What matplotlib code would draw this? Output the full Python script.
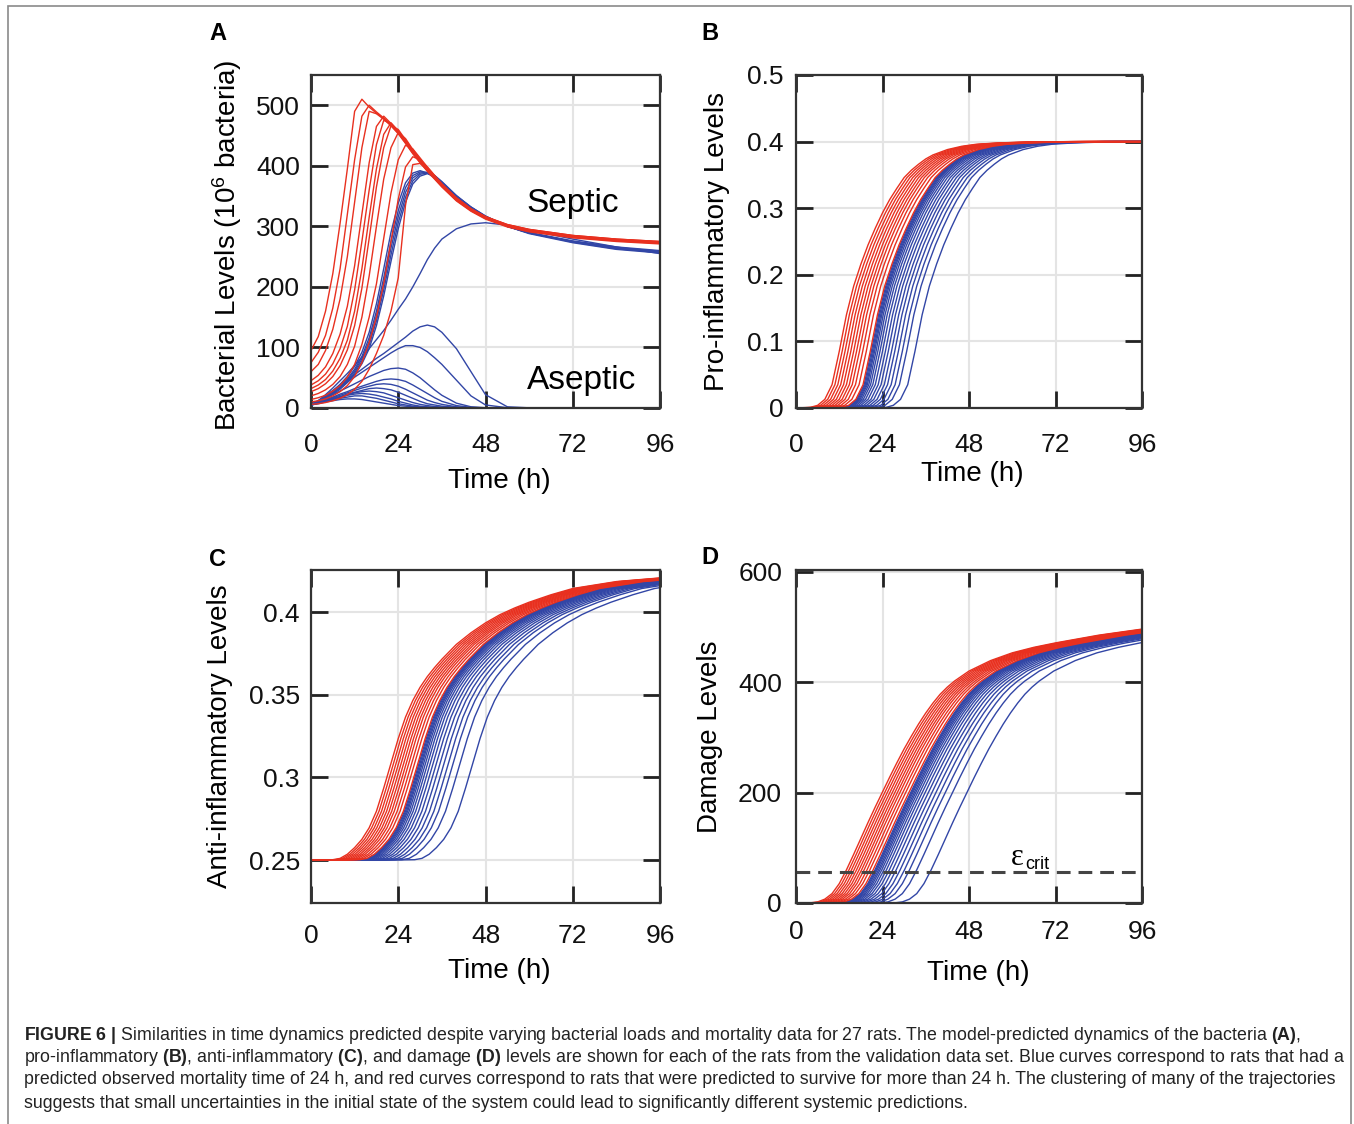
import matplotlib
matplotlib.use("Agg")
import matplotlib.pyplot as plt
import numpy as np
from matplotlib.patches import Rectangle

plt.rcParams['font.family'] = ['Liberation Sans', 'DejaVu Sans']
plt.rcParams['mathtext.fontset'] = 'custom'
plt.rcParams['mathtext.rm'] = 'Liberation Sans'
plt.rcParams['mathtext.bf'] = 'Liberation Sans:bold'
plt.rcParams['mathtext.it'] = 'Liberation Sans:italic'

# ---------------- data ----------------
TICKS_T = [0, 24, 48, 72, 96]

# Panel A: bacterial levels, common time grid
T_A = [0, 2, 4, 6, 8, 10, 12, 14, 16, 18, 20, 22, 24, 26, 28, 30, 32, 34, 36, 40, 44, 48, 54, 60, 72, 84, 96]
RED_A = [
    [95, 118, 160, 222, 305, 395, 490, 510, 497, 487, 478, 467, 454, 438, 421, 406, 392, 379, 366, 343, 326, 313, 300, 292, 282, 276, 272],
    [75, 92, 120, 165, 230, 320, 410, 482, 500, 489, 479, 468, 455, 439, 422, 407, 393, 380, 367, 344, 327, 314, 301, 293, 283, 277, 273],
    [60, 72, 95, 130, 180, 250, 340, 430, 490, 486, 477, 466, 453, 437, 420, 405, 391, 378, 365, 342, 325, 312, 299, 291, 281, 275, 271],
    [45, 54, 68, 90, 122, 168, 235, 320, 405, 465, 482, 470, 456, 440, 423, 408, 394, 381, 368, 345, 328, 315, 302, 294, 284, 278, 274],
    [38, 45, 56, 73, 98, 135, 195, 275, 360, 435, 475, 470, 457, 440, 423, 407, 393, 380, 367, 344, 327, 314, 301, 293, 283, 277, 273],
    [32, 38, 47, 61, 82, 112, 160, 230, 315, 395, 452, 471, 458, 441, 424, 409, 395, 381, 368, 345, 327, 314, 301, 293, 283, 277, 273],
    [27, 32, 40, 52, 70, 96, 136, 198, 280, 365, 430, 466, 460, 443, 425, 409, 395, 382, 368, 345, 328, 315, 302, 294, 284, 278, 274],
    [20, 24, 30, 39, 52, 72, 102, 150, 218, 300, 378, 430, 455, 445, 427, 411, 396, 382, 368, 345, 328, 315, 302, 294, 284, 278, 274],
    [14, 17, 21, 28, 37, 51, 72, 105, 150, 205, 280, 355, 410, 434, 428, 413, 398, 384, 370, 347, 329, 316, 303, 295, 285, 279, 275],
    [10, 12, 15, 20, 27, 37, 52, 75, 108, 150, 205, 275, 345, 398, 415, 410, 398, 384, 370, 347, 329, 316, 303, 295, 285, 279, 275],
    [6, 7, 9, 12, 16, 22, 31, 44, 64, 90, 120, 160, 215, 335, 402, 404, 394, 381, 368, 345, 328, 315, 302, 294, 284, 278, 274],
]
BLUE_A = [
    [6, 12, 19, 28, 39, 52, 69, 92, 125, 172, 230, 290, 338, 372, 388, 392, 388, 380, 370, 348, 330, 316, 300, 290, 276, 266, 260],
    [6, 11, 18, 26, 36, 48, 64, 85, 116, 160, 215, 275, 326, 364, 384, 390, 389, 382, 371, 349, 331, 316, 300, 289, 275, 265, 259],
    [5, 11, 17, 25, 34, 46, 61, 81, 110, 152, 205, 264, 316, 356, 380, 388, 389, 383, 372, 350, 331, 316, 300, 289, 275, 264, 258],
    [5, 10, 16, 24, 33, 44, 58, 77, 104, 144, 195, 253, 306, 348, 375, 386, 388, 384, 373, 350, 332, 317, 300, 289, 274, 263, 257],
    [5, 10, 15, 23, 31, 42, 55, 73, 98, 136, 185, 242, 296, 340, 370, 383, 387, 384, 374, 351, 332, 317, 300, 288, 273, 262, 256],
    [5, 12, 22, 33, 45, 57, 70, 84, 98, 113, 128, 145, 163, 180, 200, 222, 245, 264, 279, 296, 304, 306, 302, 294, 279, 266, 255],
    [5, 12, 20, 29, 38, 46, 55, 64, 73, 82, 90, 99, 108, 117, 127, 134, 137, 134, 125, 98, 60, 22, 2, 0.3, 0, 0, 0],
    [5, 11, 19, 27, 35, 43, 51, 59, 67, 75, 83, 91, 98, 103, 103, 100, 93, 83, 72, 46, 20, 5, 0.5, 0, 0, 0, 0],
    [5, 10, 16, 22, 28, 34, 40, 46, 52, 57, 62, 65, 66, 64, 58, 50, 40, 30, 21, 8, 2, 0.5, 0, 0, 0, 0, 0],
    [5, 9, 14, 18, 23, 27, 32, 36, 40, 44, 47, 48, 47, 44, 38, 31, 24, 17, 11, 4, 1, 0.2, 0, 0, 0, 0, 0],
    [5, 9, 13, 17, 21, 25, 29, 33, 36, 39, 40, 39, 36, 31, 25, 19, 13, 9, 6, 2, 0.5, 0, 0, 0, 0, 0, 0],
    [5, 9, 12, 16, 19, 23, 26, 29, 32, 33, 32, 30, 26, 21, 16, 11, 7, 5, 3, 1, 0.2, 0, 0, 0, 0, 0, 0],
    [5, 8, 12, 15, 18, 22, 25, 27, 28, 27, 25, 21, 17, 13, 9, 6, 4, 2.5, 1.5, 0.5, 0, 0, 0, 0, 0, 0, 0],
    [5, 8, 11, 14, 17, 21, 23, 24, 23, 21, 18, 15, 11, 8, 5, 3, 2, 1, 0.5, 0, 0, 0, 0, 0, 0, 0, 0],
    [5, 8, 11, 13, 16, 18, 20, 20, 18, 16, 13, 10, 7, 5, 3, 2, 1, 0.5, 0.2, 0, 0, 0, 0, 0, 0, 0, 0],
    [5, 7, 10, 12, 14, 15, 15, 14, 12, 10, 8, 6, 4, 3, 2, 1, 0.5, 0.3, 0.1, 0, 0, 0, 0, 0, 0, 0, 0],
]

# Panels B-D: trajectory of the earliest rat plus per-rat onset delays (h)
T_B_REF = [-30, 0, 4, 6, 8, 10, 12, 14, 16, 18, 20, 22, 24, 26, 28, 30, 32, 34, 36, 38, 42, 46, 50, 56, 64, 76, 130]
B_REF = [0, 0, 0.001, 0.004, 0.013, 0.035, 0.085, 0.14, 0.183, 0.216, 0.245, 0.27, 0.293, 0.313, 0.33, 0.346,
         0.357, 0.366, 0.374, 0.380, 0.388, 0.393, 0.396, 0.398, 0.3993, 0.4, 0.4]
SHIFT_B_RED = [0, 0.8, 1.6, 2.4, 3.2, 4.0, 4.8, 5.6, 6.5, 7.5, 8.6]
SHIFT_B_BLUE = [8.9, 9.2, 9.5, 9.8, 10.2, 10.7, 11.3, 12.0, 12.8, 13.6, 14.5, 15.4, 16.4, 17.5, 18.7, 21.0]

T_C_REF = [-30, 0, 6, 8, 10, 12, 14, 16, 18, 20, 22, 24, 26, 28, 30, 32, 34, 36, 38, 40, 44, 48, 52, 56, 60, 66, 72,
           84, 96, 130]
C_REF = [0.25, 0.25, 0.2502, 0.251, 0.2535, 0.2575, 0.2625, 0.2695, 0.2795, 0.2935, 0.3085, 0.3235, 0.3365, 0.3465,
         0.3545, 0.361, 0.3665, 0.3715, 0.376, 0.3805, 0.3875, 0.3935, 0.3985, 0.4025, 0.406, 0.4105, 0.4143, 0.4185,
         0.4207, 0.4235]
SHIFT_C_RED = [0, 0.7, 1.4, 2.1, 2.8, 3.5, 4.2, 4.9, 5.7, 6.5, 7.4]
SHIFT_C_BLUE = [7.7, 8.0, 8.3, 8.6, 9.0, 9.5, 10.1, 10.8, 11.6, 12.5, 13.5, 14.6, 15.8, 17.1, 19.0, 22.5]

T_D_REF = [-30, 0, 4, 6, 8, 10, 12, 14, 16, 18, 20, 22, 24, 26, 28, 30, 32, 34, 36, 38, 40, 42, 44, 48, 54, 60, 66,
           72, 84, 96, 130]
D_REF = [0, 0, 0.3, 2, 7, 17, 35, 60, 88, 117, 146, 174, 201, 228, 254, 279, 302, 324, 344, 362, 378, 391, 402, 420,
         439, 453, 463, 471, 485, 496, 524]
SHIFT_D_RED = [0, 0.7, 1.4, 2.1, 2.8, 3.5, 4.2, 4.9, 5.7, 6.5, 7.4]
SHIFT_D_BLUE = [7.9, 8.2, 8.5, 8.9, 9.3, 9.8, 10.4, 11.1, 11.9, 12.8, 13.8, 14.9, 16.1, 17.5, 19.5, 23.5]
EPS_CRIT = 56

CAPTION = [
    r"$\mathbf{FIGURE\ 6\ |}$ Similarities in time dynamics predicted despite varying bacterial loads and mortality data for 27 rats. The model-predicted dynamics of the bacteria $\mathbf{(A)}$,",
    r"pro-inflammatory $\mathbf{(B)}$, anti-inflammatory $\mathbf{(C)}$, and damage $\mathbf{(D)}$ levels are shown for each of the rats from the validation data set. Blue curves correspond to rats that had a",
    r"predicted observed mortality time of 24 h, and red curves correspond to rats that were predicted to survive for more than 24 h. The clustering of many of the trajectories",
    r"suggests that small uncertainties in the initial state of the system could lead to significantly different systemic predictions.",
]

# ---------------- styling ----------------
RED = '#e8301f'
BLUE = '#3246a6'
LW = 1.0
W, H = 1354, 1124
TICK_FS = 19
LABEL_FS = 20

fig = plt.figure(figsize=(W / 100, H / 100), dpi=100)


def add_ax(l, t, r, b):
    return fig.add_axes([l / W, 1 - b / H, (r - l) / W, (b - t) / H])


def style(ax, xpad, ypad):
    ax.set_xlim(0, 96)
    ax.set_xticks(TICKS_T)
    ax.set_xticklabels([str(v) for v in TICKS_T])
    ax.grid(True, color='#e4e4e4', lw=1.5)
    ax.set_axisbelow(True)
    ax.tick_params(axis='both', direction='in', length=12, width=2, top=True, right=True,
                   labelsize=TICK_FS, color='#222222', labelcolor='#111111')
    ax.tick_params(axis='x', pad=xpad)
    ax.tick_params(axis='y', pad=ypad)
    for sp in ax.spines.values():
        sp.set_linewidth(1.6)
        sp.set_color('#333333')


def label(ax, xl, yl, xpos, ypos):
    ax.text(xpos[0], xpos[1], xl, transform=ax.transAxes, ha='center', va='center', fontsize=LABEL_FS)
    ax.text(ypos[0], ypos[1], yl, transform=ax.transAxes, ha='center', va='center', fontsize=LABEL_FS, rotation=90)


# Panel A
axA = add_ax(311, 75, 660, 408)
for ys in BLUE_A:
    axA.plot(T_A, ys, color=BLUE, lw=LW)
for ys in RED_A:
    axA.plot(T_A, ys, color=RED, lw=LW)
axA.set_ylim(0, 550)
axA.set_yticks([0, 100, 200, 300, 400, 500])
style(axA, 18, 8)
label(axA, 'Time (h)', r'Bacterial Levels (10$^{6}$ bacteria)', (0.54, -0.218), (-0.24, 0.49))
axA.text(72, 337, 'Septic', fontsize=24, ha='center', va='center')
axA.text(74.5, 46, 'Aseptic', fontsize=24, ha='center', va='center')

# Panel B
axB = add_ax(796, 75, 1142, 408)
for s in SHIFT_B_BLUE:
    axB.plot(np.array(T_B_REF) + s, B_REF, color=BLUE, lw=LW)
for s in SHIFT_B_RED:
    axB.plot(np.array(T_B_REF) + s, B_REF, color=RED, lw=LW)
axB.set_ylim(0, 0.5)
axB.set_yticks([0, 0.1, 0.2, 0.3, 0.4, 0.5])
axB.set_yticklabels(['0', '0.1', '0.2', '0.3', '0.4', '0.5'])
style(axB, 18, 9)
label(axB, 'Time (h)', 'Pro-inflammatory Levels', (0.509, -0.197), (-0.228, 0.5))

# Panel C
axC = add_ax(311, 570, 660, 903)
for s in SHIFT_C_BLUE:
    axC.plot(np.array(T_C_REF) + s, C_REF, color=BLUE, lw=LW)
for s in SHIFT_C_RED:
    axC.plot(np.array(T_C_REF) + s, C_REF, color=RED, lw=LW)
axC.set_ylim(0.224, 0.4255)
axC.set_yticks([0.25, 0.3, 0.35, 0.4])
axC.set_yticklabels(['0.25', '0.3', '0.35', '0.4'])
style(axC, 15, 8)
label(axC, 'Time (h)', 'Anti-inflammatory Levels', (0.54, -0.203), (-0.262, 0.5))

# Panel D
axD = add_ax(796, 570, 1142, 903)
for s in SHIFT_D_BLUE:
    axD.plot(np.array(T_D_REF) + s, D_REF, color=BLUE, lw=LW)
for s in SHIFT_D_RED:
    axD.plot(np.array(T_D_REF) + s, D_REF, color=RED, lw=LW)
axD.axhline(EPS_CRIT, color='#444444', lw=2.2, ls=(0, (4.5, 2.6)))
axD.set_ylim(0, 603)
axD.set_yticks([0, 200, 400, 600])
style(axD, 12, 10)
label(axD, 'Time (h)', 'Damage Levels', (0.526, -0.21), (-0.249, 0.5))
axD.text(61.5, 82, 'ε', fontsize=22, family='Liberation Serif', ha='center', va='center')
axD.text(63.7, 70, 'crit', fontsize=13, ha='left', va='center')

# panel letters
for letter, x, y in [('A', 218, 33), ('B', 710, 33), ('C', 217, 560), ('D', 710, 558)]:
    fig.text(x / W, 1 - y / H, letter, fontsize=17, fontweight='bold', ha='center', va='center')

# caption
renderer = fig.canvas.get_renderer()
texts = []
for line, y in zip(CAPTION, [1035, 1057, 1080, 1103]):
    t = fig.text(24 / W, 1 - y / H, line, fontsize=10, ha='left', va='center', color='#222222')
    texts.append(t)
w = texts[0].get_window_extent(renderer).width
fs = 10 * 1272 / w
for t in texts:
    t.set_fontsize(fs)

# outer frame
fig.add_artist(Rectangle((8 / W, -0.02), (1351 - 8) / W, 1.02 - 6 / H, transform=fig.transFigure,
                         fill=False, edgecolor='#8a8a8a', lw=1.2))

fig.savefig('out.png', dpi=100)
